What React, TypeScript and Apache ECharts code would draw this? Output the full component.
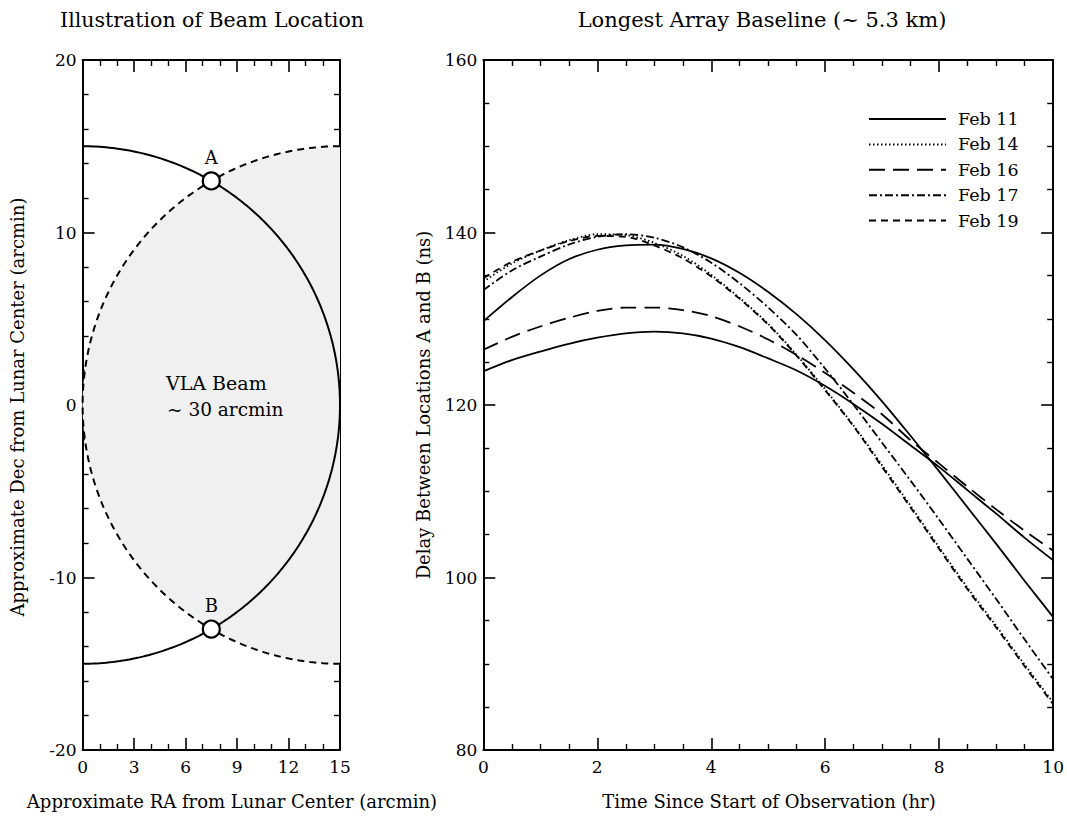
import React, { useEffect, useRef } from "react";
import * as echarts from "echarts";

const FONT = "DejaVu Serif";

// ---- Right panel: delay between locations A and B (ns) vs. time (hr) ----
const hours = [0, 0.5, 1, 1.5, 2, 2.5, 3, 3.5, 4, 4.5, 5, 5.5, 6, 6.5, 7, 7.5, 8, 8.5, 9, 9.5, 10];

const feb11Lower = [123.9, 125.2, 126.2, 127.1, 127.8, 128.3, 128.5, 128.3, 127.7, 126.7, 125.4, 124.0, 122.2, 120.1, 117.8, 115.3, 112.8, 110.1, 107.4, 104.6, 102.0];
const feb11Upper = [129.7, 132.5, 135.0, 136.9, 138.0, 138.5, 138.6, 138.1, 137.0, 135.3, 133.1, 130.5, 127.5, 124.1, 120.4, 116.4, 112.3, 108.1, 103.9, 99.6, 95.4];
const feb14 = [134.3, 136.4, 137.9, 139.1, 139.8, 139.7, 138.8, 137.3, 135.1, 132.4, 129.4, 125.8, 121.8, 117.6, 113.0, 108.3, 103.5, 98.8, 94.4, 89.9, 85.5];
const feb16 = [126.4, 127.9, 129.1, 130.1, 130.9, 131.3, 131.3, 131.0, 130.3, 129.1, 127.6, 125.8, 123.7, 121.4, 118.9, 115.9, 113.2, 110.5, 107.9, 105.4, 103.1];
const feb17 = [133.3, 135.6, 137.2, 138.6, 139.5, 139.8, 139.4, 138.3, 136.5, 134.1, 131.3, 128.1, 124.2, 120.0, 115.6, 111.2, 106.7, 102.1, 97.5, 92.8, 88.2];
const feb19 = [134.7, 136.6, 137.9, 139.0, 139.6, 139.5, 138.5, 137.0, 134.9, 132.3, 129.3, 125.7, 121.7, 117.5, 112.8, 108.1, 103.3, 98.6, 94.2, 89.7, 85.3];

const legendNames = ["Feb 11", "Feb 14", "Feb 16", "Feb 17", "Feb 19"];

// ---- Left panel: beam geometry (arcmin) ----
const lunarCenter = [0, 0];
const lunarRadius = 15;
const beamCenter = [15, 0];
const beamRadius = 15;
const locationLabels = ["A", "B"];
const locationPoints = [
  [7.5, 12.99],
  [7.5, -12.99],
];

function arcPoints(cx: number, cy: number, r: number, fromDeg: number, toDeg: number, steps: number) {
  const pts: number[][] = [];
  for (let i = 0; i <= steps; i++) {
    const t = ((fromDeg + ((toDeg - fromDeg) * i) / steps) * Math.PI) / 180;
    pts.push([cx + r * Math.cos(t), cy + r * Math.sin(t)]);
  }
  return pts;
}

const limbArc = arcPoints(lunarCenter[0], lunarCenter[1], lunarRadius, 90, -90, 240);
const beamArc = arcPoints(beamCenter[0], beamCenter[1], beamRadius, 90, 270, 240);

const pairs = (ys: number[]) => hours.map((h, i) => [h, ys[i]]);

function frameAxis(
  kind: "x" | "y",
  gridIndex: number,
  position: string,
  min: number,
  max: number,
  interval: number,
  minorSplit: number,
  showLabel: boolean
) {
  return {
    type: "value",
    gridIndex,
    position,
    min,
    max,
    interval,
    axisLine: { show: true, onZero: false, lineStyle: { color: "#000", width: 2 } },
    axisTick: { show: true, inside: true, length: 12, lineStyle: { color: "#000", width: 1.6 } },
    minorTick: { show: true, splitNumber: minorSplit, length: 6, lineStyle: { color: "#000", width: 1.4 } },
    splitLine: { show: false },
    minorSplitLine: { show: false },
    axisLabel: {
      show: showLabel,
      color: "#000",
      fontFamily: FONT,
      fontSize: 17,
      margin: kind === "x" ? 8 : 6,
    },
  };
}

function curve(name: string, ys: number[], dash: any) {
  return {
    type: "line",
    name,
    xAxisIndex: 2,
    yAxisIndex: 2,
    data: pairs(ys),
    symbol: "none",
    smooth: 0.3,
    lineStyle: { color: "#000", width: 1.8, type: dash },
    itemStyle: { color: "#000", opacity: 0 },
    z: 3,
  };
}

const textStyle = (size: number) => ({ fontFamily: FONT, fontSize: size, fill: "#000" });

export default function App() {
  const ref = useRef<HTMLDivElement>(null);

  useEffect(() => {
    document.body.style.margin = "0";
    if (!ref.current) return;
    const chart = echarts.init(ref.current, undefined, { renderer: "svg" });

    chart.setOption({
      animation: false,
      backgroundColor: "#fff",
      grid: [
        { left: 82.6, top: 60, width: 257.4, height: 690 },
        { left: 483.3, top: 60, width: 572, height: 690 },
      ],
      xAxis: [
        frameAxis("x", 0, "bottom", 0, 15, 3, 3, true),
        frameAxis("x", 0, "top", 0, 15, 3, 3, false),
        frameAxis("x", 1, "bottom", 0, 10, 2, 4, true),
        frameAxis("x", 1, "top", 0, 10, 2, 4, false),
      ],
      yAxis: [
        frameAxis("y", 0, "left", -20, 20, 10, 5, true),
        frameAxis("y", 0, "right", -20, 20, 10, 5, false),
        frameAxis("y", 1, "left", 80, 160, 20, 4, true),
        frameAxis("y", 1, "right", 80, 160, 20, 4, false),
      ],
      legend: {
        data: legendNames,
        orient: "vertical",
        left: 863,
        top: 105,
        itemWidth: 77,
        itemHeight: 20,
        itemGap: 7.4,
        selectedMode: false,
        itemStyle: { opacity: 0 },
        textStyle: { fontFamily: FONT, fontSize: 17.5, color: "#000", padding: [0, 0, 0, 7] },
      },
      series: [
        {
          type: "custom",
          xAxisIndex: 0,
          yAxisIndex: 0,
          silent: true,
          data: [[beamCenter[0], beamCenter[1]]],
          z: 1,
          renderItem: (_params: any, api: any) => ({
            type: "polygon",
            shape: { points: beamArc.map((p) => api.coord(p)) },
            style: { fill: "#f0f0f0" },
          }),
        },
        {
          type: "line",
          xAxisIndex: 0,
          yAxisIndex: 0,
          data: limbArc,
          symbol: "none",
          silent: true,
          lineStyle: { color: "#000", width: 2 },
          z: 3,
        },
        {
          type: "line",
          xAxisIndex: 0,
          yAxisIndex: 0,
          data: beamArc,
          symbol: "none",
          silent: true,
          lineStyle: { color: "#000", width: 2, type: [7, 5] },
          z: 3,
        },
        {
          type: "scatter",
          xAxisIndex: 0,
          yAxisIndex: 0,
          symbol: "circle",
          symbolSize: 17,
          silent: true,
          itemStyle: { color: "#fff", borderColor: "#000", borderWidth: 2.2, opacity: 1 },
          label: {
            show: true,
            position: "top",
            distance: 5,
            formatter: "{b}",
            fontFamily: FONT,
            fontSize: 18,
            color: "#000",
          },
          data: locationPoints.map((p, i) => ({ name: locationLabels[i], value: p })),
          z: 5,
        },
        curve("Feb 11", feb11Lower, "solid"),
        curve("Feb 11", feb11Upper, "solid"),
        curve("Feb 14", feb14, [1.5, 2.5]),
        curve("Feb 16", feb16, [16, 8]),
        curve("Feb 17", feb17, [8, 3, 2, 3]),
        curve("Feb 19", feb19, [7, 5]),
      ],
      graphic: [
        { type: "text", x: 212, y: 20, style: { ...textStyle(20.5), text: "Illustration of Beam Location", align: "center", verticalAlign: "middle" } },
        { type: "text", x: 762, y: 20, style: { ...textStyle(21), text: "Longest Array Baseline (~ 5.3 km)", align: "center", verticalAlign: "middle" } },
        { type: "text", x: 232, y: 801, style: { ...textStyle(18), text: "Approximate RA from Lunar Center (arcmin)", align: "center", verticalAlign: "middle" } },
        { type: "text", x: 769, y: 801, style: { ...textStyle(18), text: "Time Since Start of Observation (hr)", align: "center", verticalAlign: "middle" } },
        { type: "text", x: 17, y: 407, rotation: Math.PI / 2, style: { ...textStyle(18), text: "Approximate Dec from Lunar Center (arcmin)", align: "center", verticalAlign: "middle" } },
        { type: "text", x: 423, y: 405, rotation: Math.PI / 2, style: { ...textStyle(18), text: "Delay Between Locations A and B (ns)", align: "center", verticalAlign: "middle" } },
        { type: "text", x: 166, y: 383, z: 10, style: { ...textStyle(19), text: "VLA Beam", align: "left", verticalAlign: "middle" } },
        { type: "text", x: 167, y: 409, z: 10, style: { ...textStyle(18.5), text: "~ 30 arcmin", align: "left", verticalAlign: "middle" } },
      ],
    });

    return () => chart.dispose();
  }, []);

  return <div ref={ref} style={{ width: 1067, height: 817 }} />;
}
